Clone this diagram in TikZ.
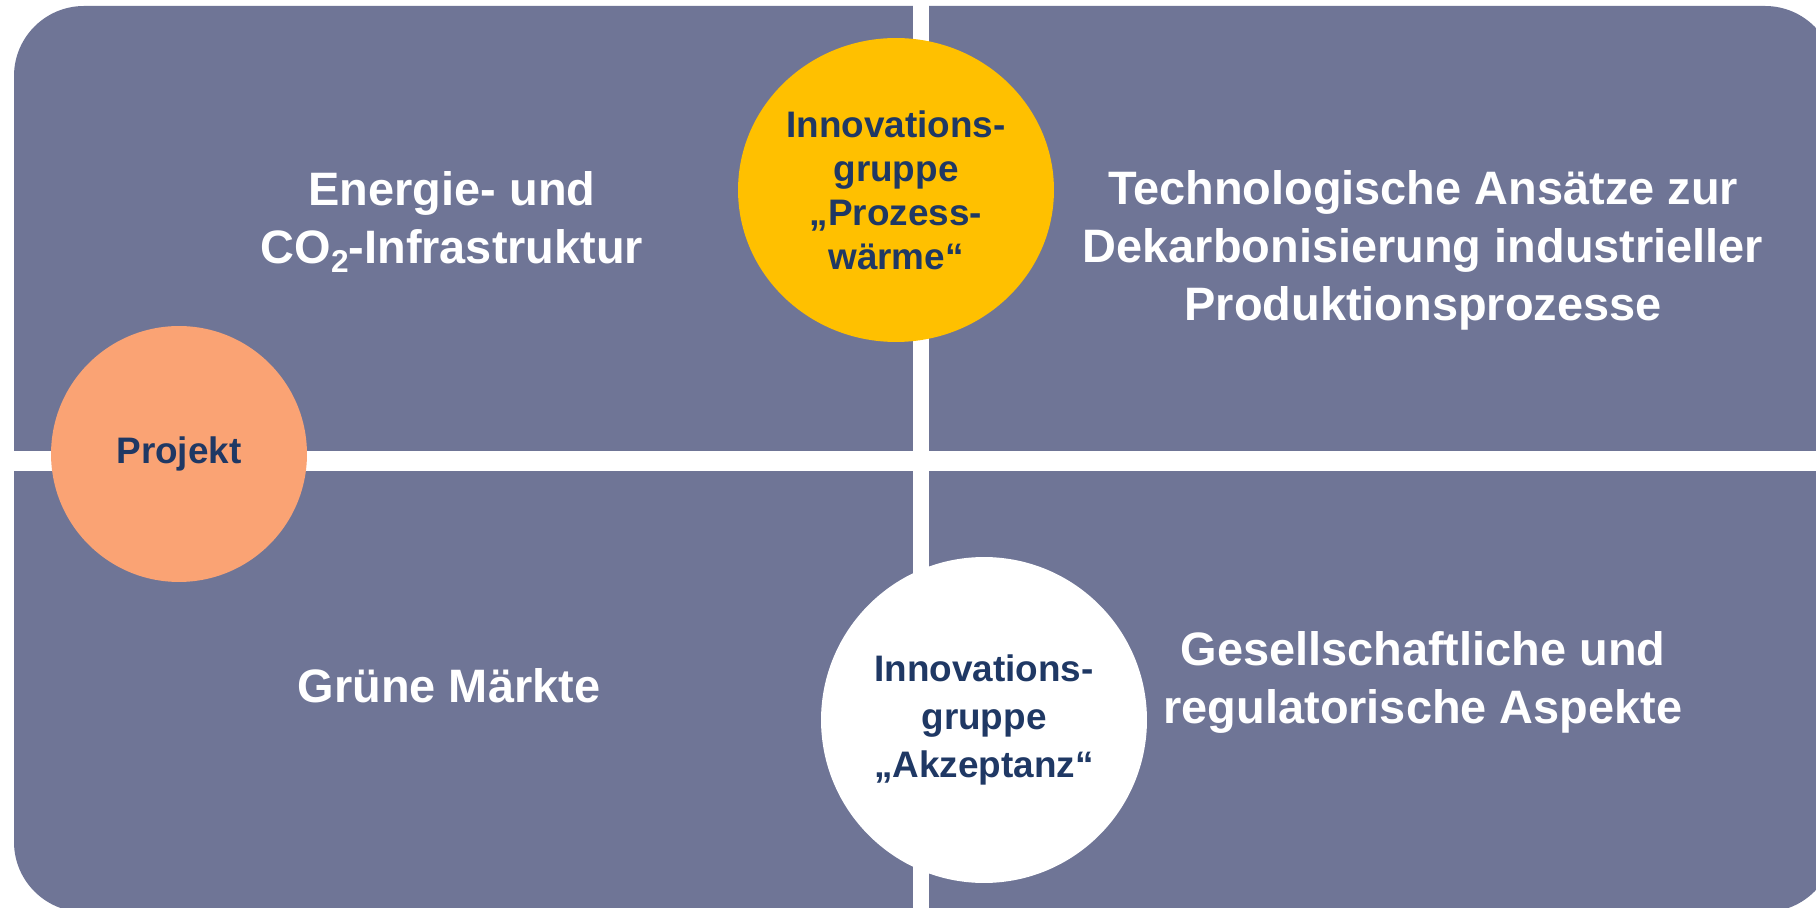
\documentclass[tikz,border=0pt]{standalone}
\usepackage{fontspec}
\setmainfont{Liberation Sans}
\usetikzlibrary{shapes.geometric}
\definecolor{figPanel}{RGB}{111,117,150}
\definecolor{figGold}{RGB}{255,192,0}
\definecolor{figSalmon}{RGB}{250,163,116}
\definecolor{figNavy}{RGB}{31,56,100}

\begin{document}
\begin{tikzpicture}[x=0.02cm,y=-0.02cm,
  field/.style={text=white,font=\bfseries\fontsize{26.7pt}{33pt}\selectfont,align=center,inner sep=0pt},
  group/.style={text=figNavy,font=\bfseries\fontsize{21pt}{25pt}\selectfont,align=center,inner sep=0pt}]
\useasboundingbox (0,0) rectangle (1816,908);
% the four fields: one rounded block cut by two white gaps
\fill[figPanel,rounded corners=1.4cm] (14,6) rectangle (1835,912);
\fill[white] (0,451) rectangle (1816,471);
\fill[white] (913,0) rectangle (929,908);
% field titles
\node[field] (infra) at (452,222) {Energie- und\\CO\raisebox{-5.5pt}{\fontsize{18pt}{18pt}\selectfont 2}-Infrastruktur};
\node[field] (tech) at (1423,250) {Technologische Ansätze zur\\Dekarbonisierung industrieller\\Produktionsprozesse};
\node[field] (markt) at (449,686) {Grüne Märkte};
\node[field] (gesell) at (1423,682) {Gesellschaftliche und\\regulatorische Aspekte};
% project and innovation groups
\node[circle,fill=figSalmon,minimum size=5.12cm,group] (projekt) at (179,454) {Projekt};
\node[ellipse,fill=figGold,minimum width=6.32cm,minimum height=6.08cm,group] (waerme) at (896,190) {Innovations-\\gruppe\\„Prozess-\\wärme“};
\node[circle,fill=white,minimum size=6.52cm,group,font=\bfseries\fontsize{21pt}{27.3pt}\selectfont] (akzeptanz) at (984,720) {Innovations-\\gruppe\\„Akzeptanz“};
\end{tikzpicture}
\end{document}
